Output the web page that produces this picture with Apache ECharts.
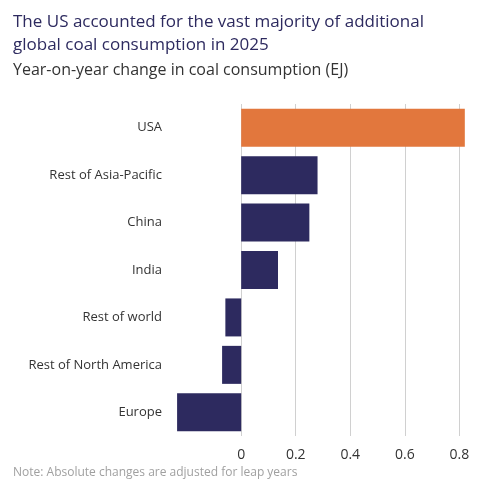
<!DOCTYPE html>
<html><head><meta charset="utf-8">
<script src="https://cdn.jsdelivr.net/npm/echarts@6/dist/echarts.min.js"></script>
<style>html,body{margin:0;padding:0;background:#fff}#c{width:492px;height:500px}</style>
</head><body><div id="c"></div>
<script>
const categories = ["USA","Rest of Asia-Pacific","China","India","Rest of world","Rest of North America","Europe"];
const values = [0.82,0.28,0.25,0.135,-0.058,-0.07,-0.235];
const tickValues = [0,0.2,0.4,0.6,0.8];
const navy = "#2d2a5f", orange = "#e2773d";
const chart = echarts.init(document.getElementById('c'));
chart.setOption({
  animation:false,
  textStyle:{fontFamily:"Open Sans"},
  title:[
    {text:"The US accounted for the vast majority of additional\nglobal coal consumption in 2025",left:8,top:6,
     textStyle:{fontFamily:"Open Sans",fontSize:17,fontWeight:"normal",color:"#2d2a5f",lineHeight:23}},
    {text:"Year-on-year change in coal consumption (EJ)",left:8,top:55,
     textStyle:{fontFamily:"Open Sans",fontSize:16,fontWeight:"normal",color:"#333",lineHeight:20}},
    {text:"Note: Absolute changes are adjusted for leap years",left:8,top:462,
     textStyle:{fontFamily:"Open Sans",fontSize:12,fontWeight:"normal",color:"#a0a0a0"}}
  ],
  grid:{left:173,right:19,top:104,bottom:64},
  xAxis:{type:"value",min:-0.25,max:0.85,
    axisLine:{show:false},axisTick:{show:false},splitLine:{show:false},
    axisLabel:{customValues:tickValues,color:"#333",fontSize:14,margin:12}},
  yAxis:{type:"category",data:categories,inverse:true,
    axisLine:{show:false},axisTick:{show:false},
    axisLabel:{color:"#333",fontSize:13,margin:11}},
  series:[{type:"bar",barWidth:38,
    data:values.map((v,i)=>({value:v,itemStyle:{color:i===0?orange:navy}})),
    markLine:{silent:true,symbol:"none",label:{show:false},z:0,
      lineStyle:{color:"#d0d0d0",type:"solid",width:1},
      data:tickValues.map(t=>({xAxis:t}))}
  }]
});
</script></body></html>
